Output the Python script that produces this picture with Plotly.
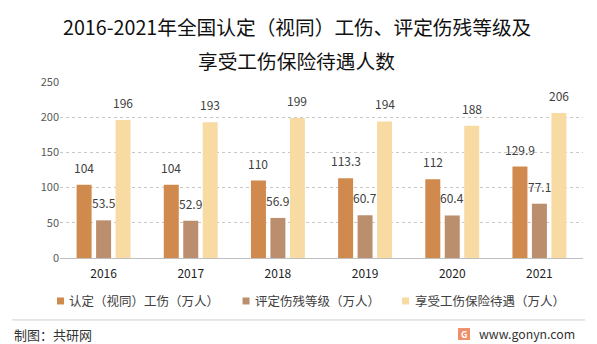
import plotly.graph_objects as go

years = ["2016", "2017", "2018", "2019", "2020", "2021"]
injury = [104, 104, 110, 113.3, 112, 129.9]
disability = [53.5, 52.9, 56.9, 60.7, 60.4, 77.1]
benefits = [196, 193, 199, 194, 188, 206]
names = ["认定（视同）工伤（万人）", "评定伤残等级（万人）", "享受工伤保险待遇（万人）"]
colors = ["#D08A4D", "#BB8E6D", "#F8DAA3"]
yticks = [0, 50, 100, 150, 200, 250]

FONT = "Noto Sans CJK SC"
fig = go.Figure()
annotations = []
shapes = []
legend_sq_x = [-0.0057, 0.349, 0.654]
for i, (vals, name, col) in enumerate(zip([injury, disability, benefits], names, colors)):
    fig.add_trace(go.Bar(
        x=years, y=vals, name=name, marker=dict(color=col, line=dict(width=0)),
        showlegend=False,
    ))
    for j, v in enumerate(vals):
        annotations.append(dict(
            x=j, y=v, xref="x", yref="y", text=f"{v:g}", showarrow=False,
            xshift=(i - 1) * 19.5, yshift=7, yanchor="bottom", xanchor="center",
            font=dict(size=12, color="#404040", family=FONT)))
    # legend entry
    lx = legend_sq_x[i]
    shapes.append(dict(type="rect", xref="paper", yref="paper", x0=lx, x1=lx + 0.0134,
                       y0=-0.264, y1=-0.2244, fillcolor=col, line=dict(width=0)))
    annotations.append(dict(text=name, xref="paper", yref="paper", x=lx + 0.020, y=-0.244,
                            xanchor="left", yanchor="middle", showarrow=False,
                            font=dict(size=12.5, color="#404040", family=FONT)))

annotations += [
    dict(text="2016-2021年全国认定（视同）工伤、评定伤残等级及", xref="paper", yref="paper",
         x=0.453, y=1.315, xanchor="center", yanchor="middle", showarrow=False,
         font=dict(size=19.7, color="#111111", family=FONT)),
    dict(text="享受工伤保险待遇人数", xref="paper", yref="paper",
         x=0.453, y=1.125, xanchor="center", yanchor="middle", showarrow=False,
         font=dict(size=19.7, color="#111111", family=FONT)),
    dict(text="制图：共研网", xref="paper", yref="paper", x=-0.092, y=-0.432,
         xanchor="left", yanchor="middle", showarrow=False,
         font=dict(size=13, color="#333333", family=FONT)),
    dict(text="<b>G</b>", xref="paper", yref="paper", x=0.7725, y=-0.432,
         xanchor="center", yanchor="middle", showarrow=False,
         font=dict(size=9, color="white", family=FONT)),
    dict(text="www.gonyn.com", xref="paper", yref="paper", x=0.797, y=-0.432,
         xanchor="left", yanchor="middle", showarrow=False,
         font=dict(size=12.3, color="#333333", family=FONT)),
]

shapes += [
    dict(type="line", xref="paper", yref="paper", x0=-0.092, x1=1.004, y0=-0.352, y1=-0.352,
         line=dict(color="#D0D0D0", width=1)),
    dict(type="rect", xref="paper", yref="paper", x0=0.761, x1=0.784, y0=-0.466, y1=-0.398,
         fillcolor="#F0906A", line=dict(width=0)),
]

fig.update_layout(
    width=597, height=344,
    margin=dict(l=60, r=14, t=82, b=86, autoexpand=False),
    paper_bgcolor="white", plot_bgcolor="white",
    barmode="group", bargap=0.33, bargroupgap=0.23,
    font=dict(family=FONT, color="#404040"),
    showlegend=False,
    xaxis=dict(type="category", range=[-0.5, 5.5], showline=True, linecolor="#BFBFBF",
               linewidth=1, ticks="", ticklabelstandoff=5,
               tickfont=dict(size=12, color="#222222", family=FONT),
               showgrid=False),
    yaxis=dict(range=[0, 250], tickvals=yticks, showgrid=True, gridcolor="#C8C8C8",
               griddash="dot", zeroline=False, ticks="", showline=False,
               tickfont=dict(size=11, color="#595959", family=FONT)),
    shapes=shapes,
    annotations=annotations,
)
fig.write_html("out.html")
